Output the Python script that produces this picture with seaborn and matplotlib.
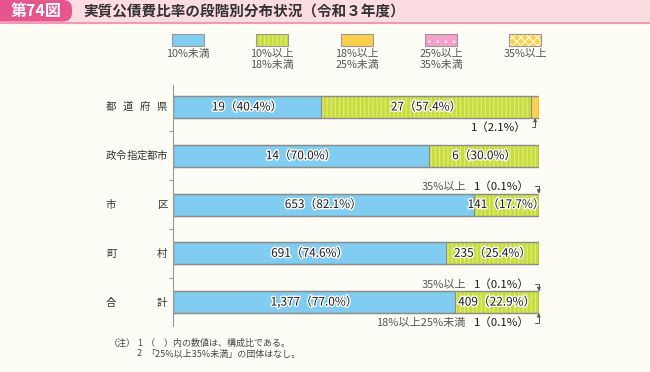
import numpy as np
import pandas as pd
import matplotlib
matplotlib.use("Agg")
import matplotlib.pyplot as plt
import matplotlib.patheffects as pe
from matplotlib.patches import Rectangle, FancyBboxPatch
import seaborn as sns

groups = ["都道府県", "政令指定都市", "市区", "町村", "合計"]
bands = ["10%未満", "10%以上\n18%未満", "18%以上\n25%未満", "25%以上\n35%未満", "35%以上"]
cnt_lt10 = [19, 14, 653, 691, 1377]
cnt_10_18 = [27, 6, 141, 235, 409]
cnt_18_25 = [1, 0, 0, 0, 1]
cnt_25_35 = [0, 0, 0, 0, 0]
cnt_ge35 = [0, 0, 1, 0, 1]
pct_lt10 = ["40.4", "70.0", "82.1", "74.6", "77.0"]
pct_10_18 = ["57.4", "30.0", "17.7", "25.4", "22.9"]

colors = ["#80cdf1", "#c8dd3a", "#fcd04c", "#f59fcb", "#fcd24e"]
hatch_col = [None, "#dfec88", None, "#fde3f0", "#fffbe8"]
hatches = [None, "||||", None, "..", "xxxx"]
bg = "#fefdf5"
txt = "#333333"

sns.set_style("white")
plt.rcParams["font.family"] = ["Noto Sans CJK JP", "DejaVu Sans"]
plt.rcParams["hatch.linewidth"] = 0.8

counts = np.array([cnt_lt10, cnt_10_18, cnt_18_25, cnt_25_35, cnt_ge35], dtype=float)
share = counts / counts.sum(axis=0) * 100
cum = np.cumsum(share, axis=0)
df = pd.DataFrame({"区分": groups})
for i in range(5):
    df[f"c{i}"] = cum[i]

fig = plt.figure(figsize=(6.5, 3.72), dpi=100, facecolor=bg)
deco = fig.add_axes([0, 0, 1, 1])
deco.set_xlim(0, 650)
deco.set_ylim(372, 0)
deco.axis("off")

# title band
deco.add_patch(Rectangle((0, 0), 650, 22, color="#fbdce1", lw=0))
deco.plot([0, 650], [22.5, 22.5], color="#ef9ab7", lw=1.5)
deco.add_patch(FancyBboxPatch((-12, 0), 84, 21.5, boxstyle="round,pad=0,rounding_size=9",
                              color="#e6558b", lw=0))
deco.text(36, 11, "第74図", color="white", fontsize=11.5, fontweight="bold", ha="center", va="center")
deco.text(83, 11, "実質公債費比率の段階別分布状況（令和３年度）", color=txt, fontsize=10.5,
          fontweight="bold", ha="left", va="center")

# legend
for i, xc in enumerate([188, 272, 357, 441, 525]):
    x0 = xc - 16
    deco.add_patch(Rectangle((x0, 34), 32, 12, facecolor=colors[i], hatch=hatches[i],
                             edgecolor=hatch_col[i] or colors[i], lw=0))
    deco.add_patch(Rectangle((x0, 34), 32, 12, fill=False, edgecolor="#999999", lw=0.8))
    for j, line in enumerate(bands[i].split("\n")):
        deco.text(xc, 53.5 + j * 11.5, line, ha="center", va="center", fontsize=7.8,
                  color="#555555")

# category labels with spread characters
for k, g in enumerate(groups):
    yy = 107 + k * 49
    n = len(g)
    xs = [111, 162] if n == 2 else np.linspace(111, 162, n)
    for ch, xx in zip(g, xs):
        deco.text(xx, yy, ch, ha="center", va="center", fontsize=7.5, color=txt)

# notes
deco.text(109, 343, "（注）", fontsize=6.5, color="#444444", va="center", ha="left")
deco.text(137, 343, "1", fontsize=6.5, color="#444444", va="center", ha="left")
deco.text(146, 343, "（　）内の数値は、構成比である。", fontsize=6.5, color="#444444", va="center", ha="left")
deco.text(137, 354, "2", fontsize=6.5, color="#444444", va="center", ha="left")
deco.text(146, 354, "「25%以上35%未満」の団体はなし。", fontsize=6.5, color="#444444", va="center", ha="left")

# main axes
ax = fig.add_axes([173 / 650, 1 - 326 / 372, 366 / 650, 241 / 372])
ax.set_facecolor("none")
for i in range(4, -1, -1):
    sns.barplot(data=df, x=f"c{i}", y="区分", orient="h", color=colors[i], saturation=1,
                width=0.45, hatch=hatches[i], edgecolor=hatch_col[i] or colors[i],
                linewidth=0, ax=ax)
for i in range(5):
    sns.barplot(data=df, x=f"c{i}", y="区分", orient="h", color="#8c8c8c",
                saturation=1, width=0.45, fill=False, linewidth=0.8, ax=ax)

ax.set_xlim(0, 100)
ax.set_ylim(4.49, -0.45)
ax.set_xlabel("")
ax.set_ylabel("")
ax.set_xticks([])
ax.set_yticks([])
ax.set_yticks([0.5, 1.5, 2.5, 3.5], minor=True)
ax.tick_params(axis="y", which="minor", length=3, width=0.8, color="#999999", left=True)
for s in ["top", "right", "bottom"]:
    ax.spines[s].set_visible(False)
ax.spines["left"].set_color("#999999")
ax.spines["left"].set_linewidth(0.8)

# in-bar labels
halo = [pe.withStroke(linewidth=2, foreground="white")]
for k in range(5):
    c0 = cum[0][k]
    ax.text(c0 / 2, k, f"{int(cnt_lt10[k]):,}（{pct_lt10[k]}%）", ha="center", va="center",
            fontsize=8.5, color="#1a1a1a", path_effects=halo)
    ax.text((c0 + cum[1][k]) / 2, k, f"{int(cnt_10_18[k]):,}（{pct_10_18[k]}%）", ha="center",
            va="center", fontsize=8.5, color="#1a1a1a", path_effects=halo)

# small segment call-outs
arrow = dict(arrowstyle="-|>", color="#555555", lw=0.7, mutation_scale=5,
             connectionstyle="angle,angleA=0,angleB=90,rad=0", relpos=(1, 0.5),
             shrinkA=1, shrinkB=0)
callouts = [
    (0, 2, 0.42, 0.225, 96.7, "", "1（2.1%）"),
    (2, 4, -0.37, -0.225, 97.6, "35%以上", "1（0.1%）"),
    (4, 4, -0.37, -0.225, 97.6, "35%以上", "1（0.1%）"),
    (4, 2, 0.42, 0.225, 97.6, "18%以上25%未満", "1（0.1%）"),
]
for row, seg, ty, by, tx, tag, val in callouts:
    xc = cum[seg][row] - share[seg][row] / 2
    ax.annotate(val, xy=(xc, row + by), xytext=(tx, row + ty), ha="right", va="center",
                fontsize=8.2, color="#1a1a1a", arrowprops=arrow)
    if tag:
        ax.text(80.0, row + ty, tag, ha="right", va="center", fontsize=8, color="#555555")

fig.savefig("out.png", dpi=100, facecolor=bg)
